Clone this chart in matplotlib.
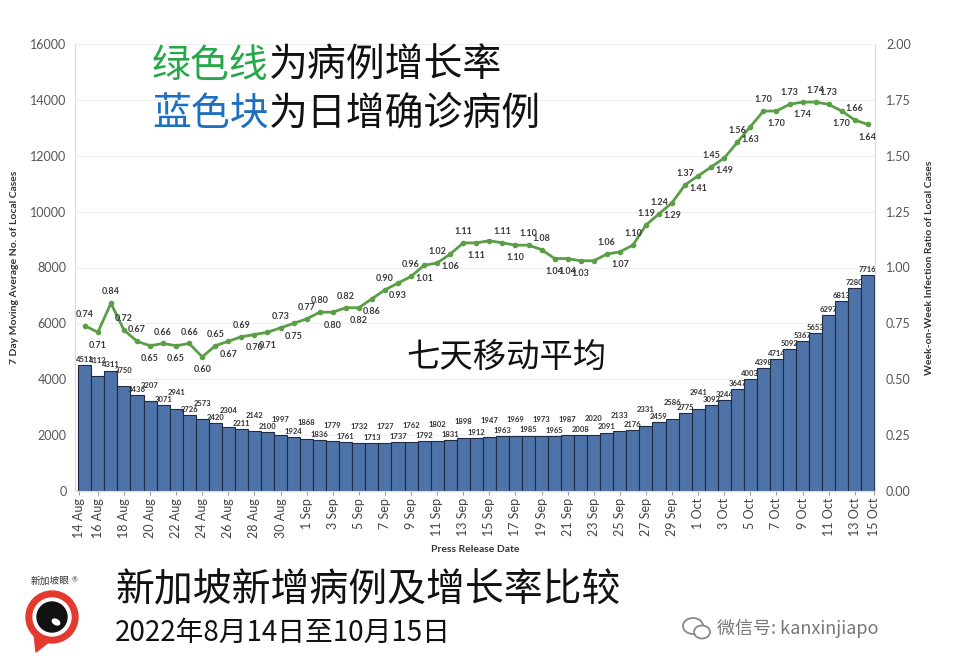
import numpy as np
import matplotlib
matplotlib.use('Agg')
import matplotlib.pyplot as plt
from matplotlib.patches import Circle, Ellipse, Polygon

plt.rcParams['font.family'] = ['Lato', 'Noto Sans CJK SC', 'DejaVu Sans']

# 7天移动平均 (15 Aug - 14 Oct)
cases = [4511, 4112, 4311, 3750, 3436, 3207, 3071, 2941, 2726, 2573,
         2420, 2304, 2211, 2142, 2100, 1997, 1924, 1868, 1836, 1779,
         1761, 1732, 1713, 1727, 1737, 1762, 1792, 1802, 1831, 1898,
         1912, 1947, 1963, 1969, 1985, 1973, 1965, 1987, 2008, 2020,
         2091, 2133, 2176, 2331, 2459, 2586, 2775, 2941, 3092, 3244,
         3647, 4003, 4398, 4714, 5092, 5367, 5653, 6297, 6813, 7280,
         7716]

# 周增长率
ratio = [0.74, 0.71, 0.84, 0.72, 0.67, 0.65, 0.66, 0.65, 0.66, 0.60,
         0.65, 0.67, 0.69, 0.70, 0.71, 0.73, 0.75, 0.77, 0.80, 0.80,
         0.82, 0.82, 0.86, 0.90, 0.93, 0.96, 1.01, 1.02, 1.06, 1.11,
         1.11, 1.12, 1.11, 1.10, 1.10, 1.08, 1.04, 1.04, 1.03, 1.03,
         1.06, 1.07, 1.10, 1.19, 1.24, 1.29, 1.37, 1.41, 1.45, 1.49,
         1.56, 1.63, 1.70, 1.70, 1.73, 1.74, 1.74, 1.73, 1.70, 1.66,
         1.64]

# 标签放在点的上方(a) / 下方(b) / 不标(n)
ratio_pos = list('abaaababab' 'ababbabaab' 'abbabababa'
                 'bnabaabbbn' 'abaaababab' 'abababaaba' 'b')

tick_labels = (['14 Aug'] + ['%d Aug' % d for d in range(16, 31, 2)]
               + ['%d Sep' % d for d in range(1, 30, 2)]
               + ['%d Oct' % d for d in range(1, 14, 2)] + ['15 Oct'])

n = len(cases)
x = np.arange(n)
tick_pos = [-0.45] + list(range(1, n, 2)) + [n - 0.55]

fig = plt.figure(figsize=(9.55, 6.71), dpi=100)
ax = fig.add_axes([75/955, 1 - 491/671, 800/955, 447/671])
ax2 = ax.twinx()

ax.bar(x, cases, width=1.0, color='#4e73a8', edgecolor='#1f2c44', linewidth=0.8, zorder=2)
for i, v in enumerate(cases):
    # 平缓段交错摆放，上升段直接贴在柱顶
    off = 9 if (i % 2 and i < 48) else 1.5
    ax.annotate(str(v), (i, v), xytext=(0, off), textcoords='offset points',
                ha='center', va='bottom', fontsize=5.5, fontweight='bold', color='#333333')

ax.set_xlim(-0.75, n - 0.45)
ax.set_ylim(0, 16000)
ax.set_yticks(range(0, 16001, 2000))
ax.grid(axis='y', color='#efefef', linewidth=0.8, zorder=0)
ax.set_axisbelow(True)
ax.set_xticks(tick_pos)
ax.set_xticklabels(tick_labels, rotation=90, fontsize=9, color='#444444')
ax.tick_params(axis='x', length=3, color='#999999', pad=2)
ax.tick_params(axis='y', length=0, labelsize=9, labelcolor='#555555', pad=6)
ax.set_xlabel('Press Release Date', fontsize=7.5, fontweight='bold', color='#333333', labelpad=5)
ax.set_ylabel('7 Day Moving Average No. of Local Cases', fontsize=7.5, fontweight='bold',
              color='#333333', labelpad=8)

ax2.plot(x, ratio, color='#5a9e46', linewidth=2, marker='o', markersize=3, zorder=3)
ax2.set_ylim(0, 2)
ax2.set_yticks(np.arange(0, 2.01, 0.25))
ax2.set_yticklabels(['%.2f' % t for t in np.arange(0, 2.01, 0.25)])
ax2.tick_params(axis='y', length=0, labelsize=9, labelcolor='#555555', pad=8)
ax2.set_ylabel('Week-on-Week Infection Ratio of Local Cases', fontsize=7.5, fontweight='bold',
               color='#333333', labelpad=10)
for i, (v, p) in enumerate(zip(ratio, ratio_pos)):
    if p == 'n':
        continue
    dy = 5 if p == 'a' else -6
    ax2.annotate('%.2f' % v, (i, v), xytext=(0, dy), textcoords='offset points',
                 ha='center', va='bottom' if p == 'a' else 'top',
                 fontsize=6.5, fontweight='bold', color='#3a3a3a')

for a in (ax, ax2):
    for s in a.spines.values():
        s.set_color('#dddddd')
    a.spines['top'].set_visible(False)
ax.spines['bottom'].set_color('#aaaaaa')

# 标题文字
cjk = ['Noto Sans CJK SC', 'DejaVu Sans']
fig.text(152/955, 1 - 66/671, '绿色线', fontsize=28, color='#26a84a', family=cjk, va='center')
fig.text(269/955, 1 - 66/671, '为病例增长率', fontsize=28, color='#111111', family=cjk, va='center')
fig.text(152/955, 1 - 114/671, '蓝色块', fontsize=28, color='#1c6fc1', family=cjk, va='center')
fig.text(269/955, 1 - 114/671, '为日增确诊病例', fontsize=28, color='#111111', family=cjk, va='center')
fig.text(506/955, 1 - 357/671, '七天移动平均', fontsize=24, color='#111111', family=cjk,
         va='center', ha='center')
fig.text(115/955, 1 - 590/671, '新加坡新增病例及增长率比较', fontsize=28, color='#111111',
         family=cjk, va='center')
fig.text(115/955, 1 - 633/671, '2022年8月14日至10月15日', fontsize=20, color='#111111',
         family=cjk, va='center')
fig.text(717/955, 1 - 628/671, '微信号: kanxinjiapo', fontsize=13, color='#777777',
         family=cjk, va='center')

# logo
lg = fig.add_axes([20/955, 1 - 655/671, 64/955, 85/671])
lg.set_xlim(0, 64)
lg.set_ylim(0, 85)
lg.set_aspect('equal')
lg.axis('off')
lg.add_patch(Polygon([[14, 22], [16, 3], [30, 14]], color='#e23a2e'))
lg.add_patch(Circle((32, 38), 26, color='#e23a2e'))
lg.add_patch(Circle((32, 38), 19, color='white'))
lg.add_patch(Circle((32, 38), 15, color='#111111'))
lg.add_patch(Ellipse((36, 33), 8, 5, angle=-30, color='white'))
lg.text(30, 74, '新加坡眼', fontsize=7, family=cjk, ha='center', va='center', color='#333333')
lg.text(55, 75, '®', fontsize=5, ha='center', va='center', color='#333333')

# 微信图标
wx = fig.add_axes([680/955, 1 - 642/671, 34/955, 28/671])
wx.set_xlim(0, 34)
wx.set_ylim(0, 28)
wx.set_aspect('equal')
wx.axis('off')
wx.add_patch(Ellipse((13, 16), 20, 16, fill=False, ec='#888888', lw=1.3))
wx.add_patch(Ellipse((22, 10), 16, 13, fc='white', ec='#888888', lw=1.3))

fig.savefig('out.png', dpi=100)
